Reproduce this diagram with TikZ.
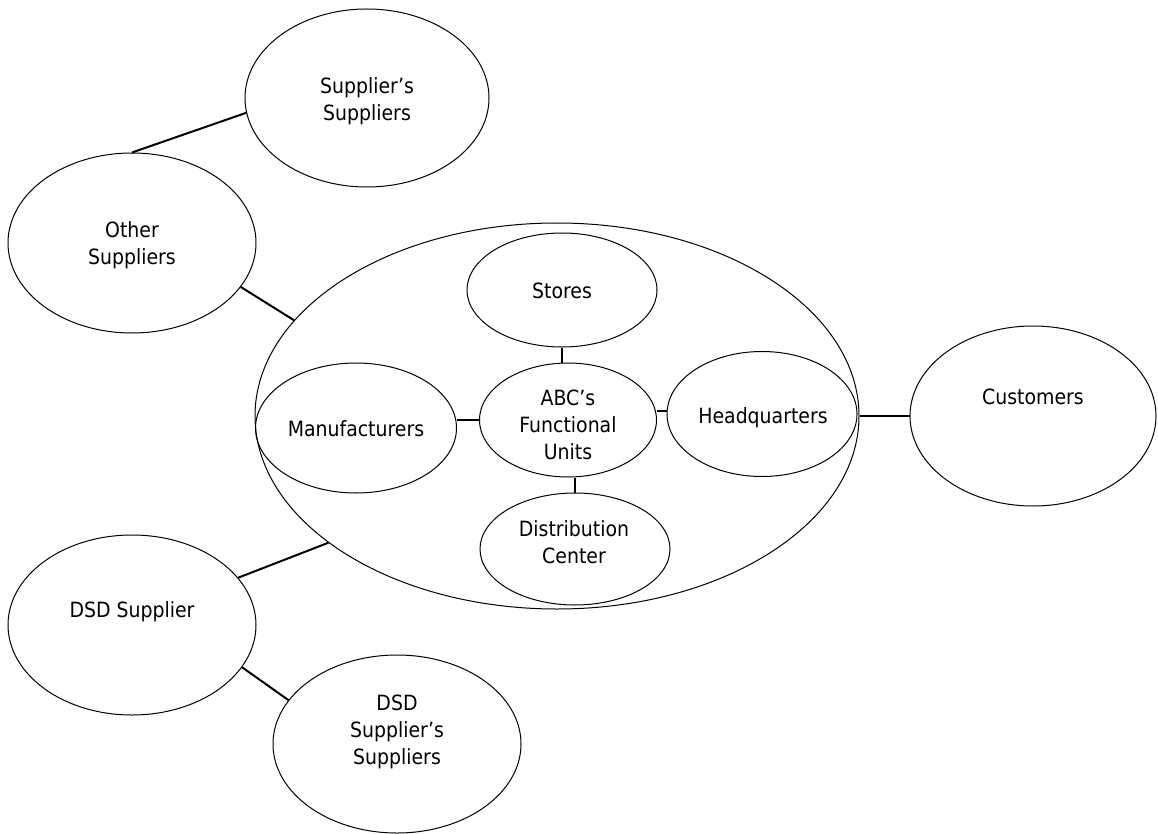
\documentclass[tikz,border=0pt]{standalone}
\usepackage{fontspec}
\setmainfont{DejaVu Sans Condensed}
\usetikzlibrary{shapes.geometric}
\begin{document}
\begin{tikzpicture}[x=1pt,y=-1pt,
  oval/.style={draw,ellipse,inner sep=0pt,line width=1pt},
  link/.style={line width=2pt},
  lbl/.style={align=center,inner sep=0pt,font=\fontsize{21}{27}\selectfont}]
\useasboundingbox (0,0) rectangle (1158,834);
% ellipses
\node[oval,minimum width=244pt,minimum height=178pt] (ss) at (367,98) {};
\node[oval,minimum width=248pt,minimum height=180pt] (os) at (132,243) {};
\node[oval,minimum width=604pt,minimum height=386pt] (big) at (557,416) {};
\node[oval,minimum width=190pt,minimum height=114pt] (stores) at (562,290) {};
\node[oval,minimum width=201pt,minimum height=130pt] (manuf) at (356,428) {};
\node[oval,minimum width=177pt,minimum height=114pt] (abc) at (568,420) {};
\node[oval,minimum width=190pt,minimum height=125pt] (hq) at (762,414) {};
\node[oval,minimum width=190pt,minimum height=112pt] (dc) at (575,549) {};
\node[oval,minimum width=246pt,minimum height=180pt] (cust) at (1033,416) {};
\node[oval,minimum width=248pt,minimum height=180pt] (dsd) at (132,625) {};
\node[oval,minimum width=248pt,minimum height=178pt] (dsds) at (397,744) {};
% labels
\node[lbl] (tss) at (367,101.5) {Supplier’s\\Suppliers};
\node[lbl] (tos) at (132,245.5) {Other\\Suppliers};
\node[lbl] (tstores) at (562,291) {Stores};
\node[lbl] (tmanuf) at (356,429) {Manufacturers};
\node[lbl] (tabc) at (568,424.5) {ABC’s\\Functional\\Units};
\node[lbl] (thq) at (763,417.5) {Headquarters};
\node[lbl] (tdc) at (574,542) {Distribution\\Center};
\node[lbl] (tcust) at (1033,397) {Customers};
\node[lbl] (tdsd) at (132,611.5) {DSD Supplier};
\node[lbl] (tdsds) at (397,732) {DSD\\Supplier’s\\Suppliers};
% connectors
\draw[link] (os.90) -- (ss.187.5);
\draw[link] (os.-22) -- (big.160.4);
\draw[link] (big.east) -- (cust.west);
\draw[link] (dsd.24.6) -- (big.209);
\draw[link] (dsd.-21.4) -- (dsds.158.2);
\draw[link] (stores.south) -- (stores.south |- abc.north);
\draw[link] (abc.west) -- (abc.west -| manuf.east);
\draw[link] (hq.178.2) -- (hq.178.2 -| abc.east);
\draw[link] (dc.north) -- (dc.north |- abc.south);
\end{tikzpicture}
\end{document}
